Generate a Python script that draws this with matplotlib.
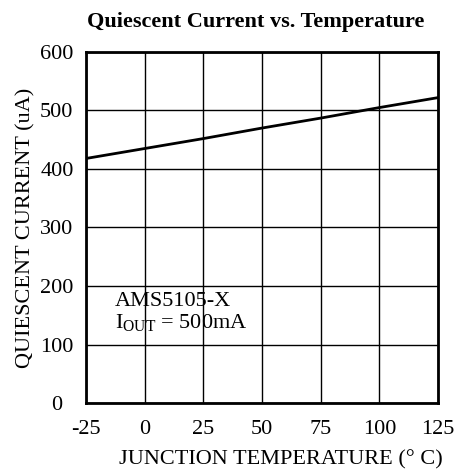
import matplotlib
matplotlib.use("Agg")
import matplotlib.pyplot as plt

# data
temps = [-25, 0, 25, 50, 75, 100, 125]
current = [418, 435, 452, 470, 487, 505, 522]
xticks = [-25, 0, 25, 50, 75, 100, 125]
yticks = [0, 100, 200, 300, 400, 500, 600]

plt.rcParams['font.family'] = ['Liberation Serif', 'DejaVu Serif']
plt.rcParams['mathtext.fontset'] = 'custom'
plt.rcParams['mathtext.rm'] = 'Liberation Serif'

fig = plt.figure(figsize=(4.58, 4.72), dpi=100)
ax = fig.add_axes([86/458, 1 - 403/472, 352/458, 351/472])

ax.plot(temps, current, color='black', linewidth=2)

ax.set_xlim(-25, 125)
ax.set_ylim(0, 600)
ax.set_xticks(xticks)
ax.set_yticks(yticks)
ax.set_xticklabels([str(t) for t in xticks], fontsize=16)
ax.set_yticklabels([str(t) for t in yticks], fontsize=16, ha='center')
ax.tick_params(axis='both', length=0)
ax.tick_params(axis='x', pad=12)
ax.tick_params(axis='y', pad=21)
ax.grid(True, color='black', linewidth=1)
for s in ax.spines.values():
    s.set_linewidth(2)

ax.set_title("Quiescent Current vs. Temperature", fontsize=16, fontweight='bold', pad=18, x=0.483)
ax.set_xlabel("JUNCTION TEMPERATURE (° C)", fontsize=16, labelpad=8)
ax.xaxis.label.set_x(0.554)
ax.set_ylabel("QUIESCENT CURRENT (uA)", fontsize=16, labelpad=3)

ax.text(-12.6, 173, "AMS5105-X", fontsize=16, va='center')
ax.text(-12.6, 138, r"$\mathrm{I_{OUT}}$ = 500mA", fontsize=16, va='center')

fig.savefig("out.png", dpi=100)
